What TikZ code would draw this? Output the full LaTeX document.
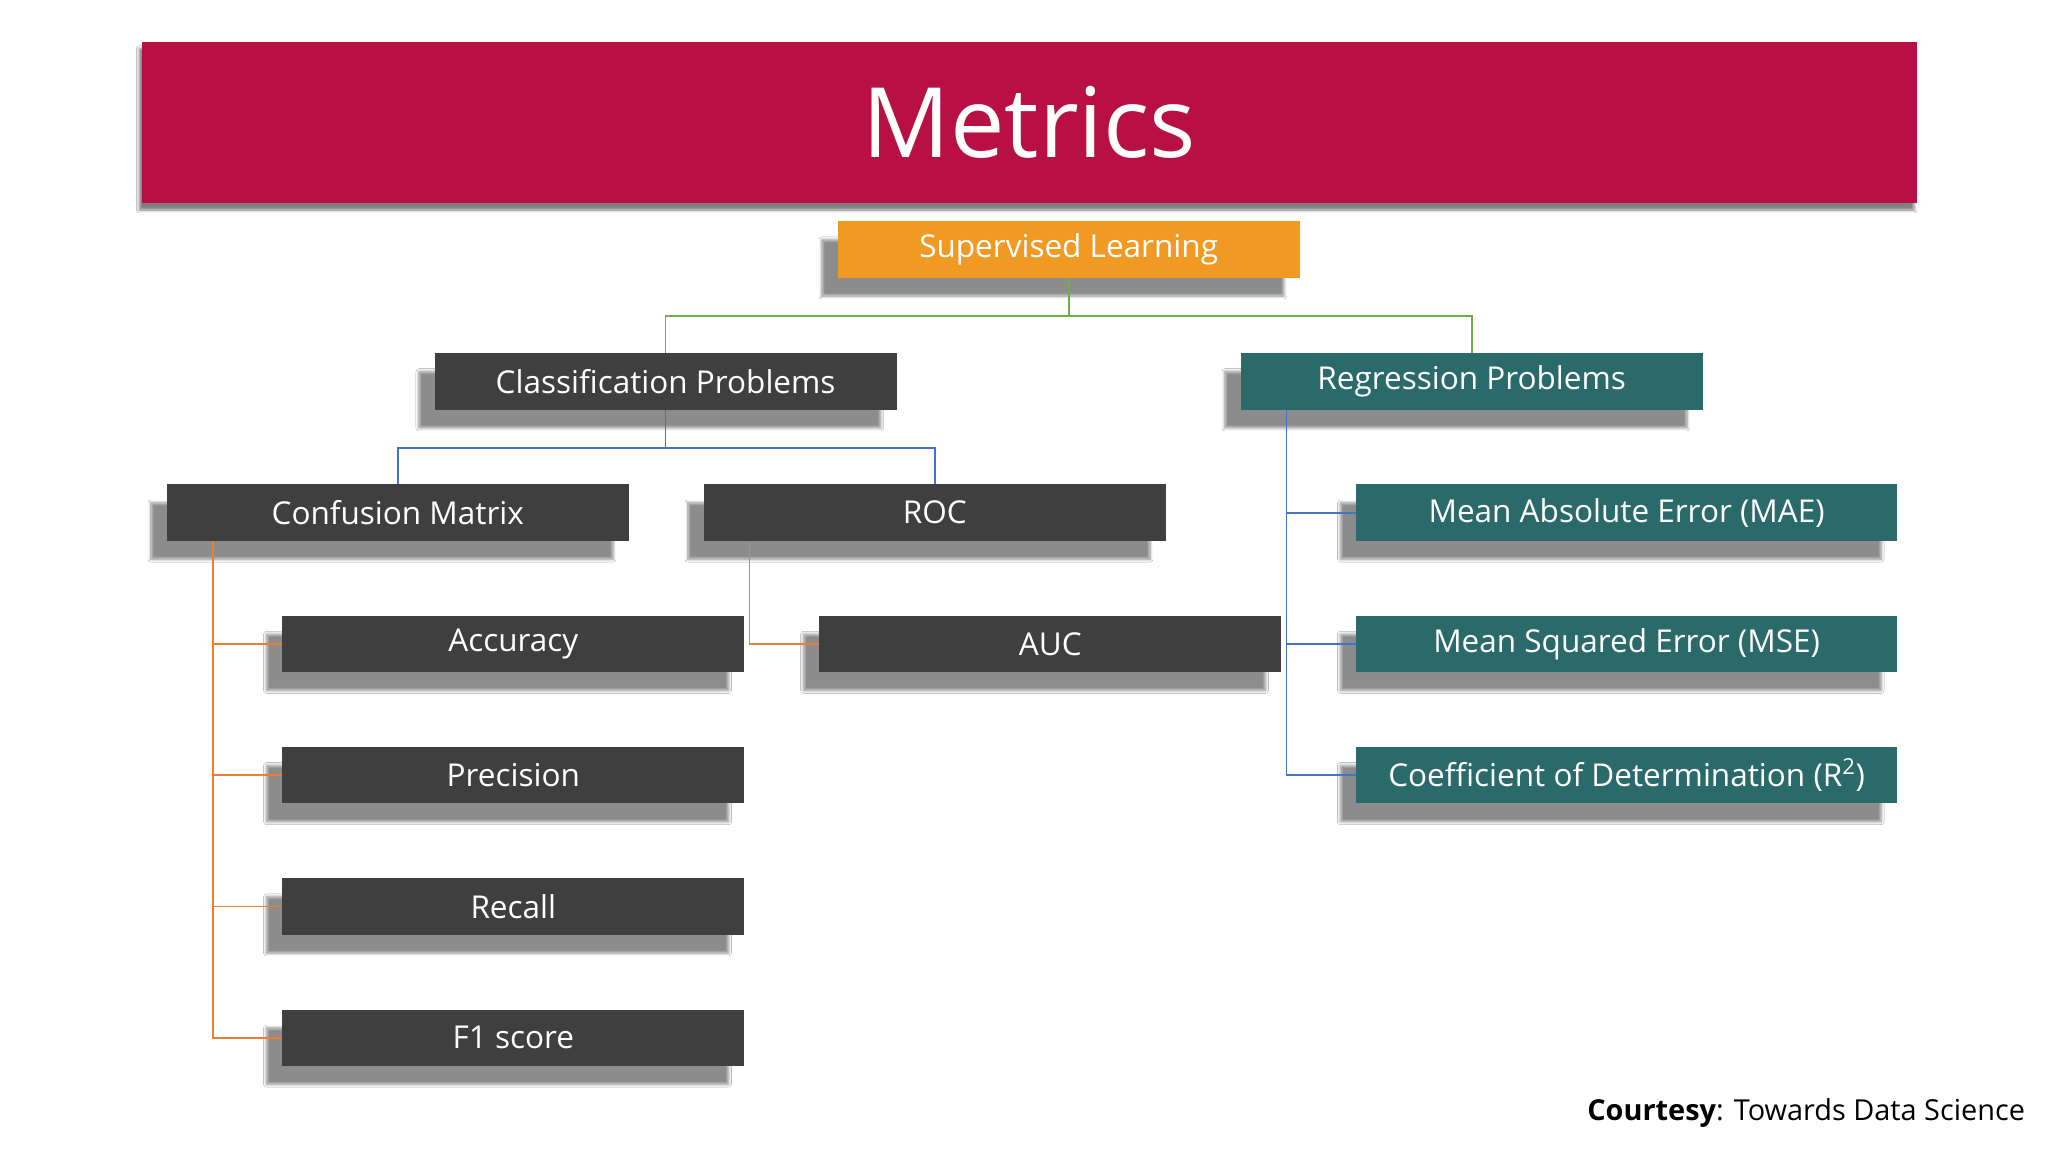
\documentclass[tikz,border=0pt]{standalone}
\usepackage{fontspec}
\setmainfont{Open Sans}
\usetikzlibrary{shadows.blur}
\definecolor{titlered}{HTML}{B80F45}
\definecolor{supor}{HTML}{F09A24}
\definecolor{darkbox}{HTML}{3F3F3F}
\definecolor{tealbox}{HTML}{2B6A6A}
\definecolor{lgreen}{HTML}{70AD47}
\definecolor{lblue}{HTML}{4472C4}
\definecolor{lorange}{HTML}{ED7D31}
\tikzset{
  box/.style={draw=none, text=white, minimum width=352pt, minimum height=43pt, inner sep=0pt,
    font=\fontsize{24}{28}\selectfont,
    blur shadow={shadow xshift=-12pt, shadow yshift=-14pt, shadow blur steps=8, shadow opacity=45}},
  wide/.style={box, minimum width=412pt},
  conn/.style={line width=1.3pt}
}
\begin{document}
\begin{tikzpicture}[x=1pt,y=1pt]
\useasboundingbox[fill=white] (0,0) rectangle (1560,-877.5);
\node[fill=titlered, text=white, minimum width=1352pt, minimum height=123pt, inner sep=0pt,
  font=\fontsize{74}{80}\selectfont,
  blur shadow={shadow xshift=-2pt, shadow yshift=-5pt, shadow opacity=50}] (title) at (784,-93.5) {Metrics};
\node[box, fill=supor] (sup) at (814,-190) {Supervised Learning};
\node[box, fill=darkbox] (cls) at (507,-290.5) {Classification Problems};
\node[box, fill=tealbox] (reg) at (1121,-290.5) {Regression Problems};
\node[box, fill=darkbox] (cm) at (303,-390.5) {Confusion Matrix};
\node[box, fill=darkbox] (roc) at (712,-390.5) {ROC};
\node[wide, fill=tealbox] (mae) at (1239,-390.5) {Mean Absolute Error (MAE)};
\node[box, fill=darkbox] (acc) at (391,-490.5) {Accuracy};
\node[box, fill=darkbox] (auc) at (800,-490.5) {AUC};
\node[wide, fill=tealbox] (mse) at (1239,-490.5) {Mean Squared Error (MSE)};
\node[box, fill=darkbox] (prec) at (391,-590.5) {Precision};
\node[wide, fill=tealbox] (r2) at (1239,-590.5) {Coefficient of Determination (R\textsuperscript{2})};
\node[box, fill=darkbox] (rec) at (391,-690.5) {Recall};
\node[box, fill=darkbox] (f1) at (391,-790.5) {F1 score};
\node[anchor=east, font=\fontsize{22}{26}\selectfont] (court) at (1546,-848) {\textbf{Courtesy}: Towards Data Science};
% connectors
\draw[conn, lgreen] (sup.south) -- ++(0,-29) -| (cls.north);
\draw[conn, lgreen] (sup.south) -- ++(0,-29) -| (reg.north);
\draw[conn, lblue] (cls.south) -- ++(0,-29) -| (cm.north);
\draw[conn, lblue] (cls.south) -- ++(0,-29) -| (roc.north);
\coordinate (rx) at (980,0);
\draw[conn, lblue] (rx |- reg.south) |- (mae.west);
\draw[conn, lblue] (rx |- reg.south) |- (mse.west);
\draw[conn, lblue] (rx |- reg.south) |- (r2.west);
\coordinate (cx) at (162,0);
\draw[conn, lorange] (cx |- cm.south) |- (acc.west);
\draw[conn, lorange] (cx |- cm.south) |- (prec.west);
\draw[conn, lorange] (cx |- cm.south) |- (rec.west);
\draw[conn, lorange] (cx |- cm.south) |- (f1.west);
\coordinate (ox) at (571,0);
\draw[conn, lorange] (ox |- roc.south) |- (auc.west);
\end{tikzpicture}
\end{document}
